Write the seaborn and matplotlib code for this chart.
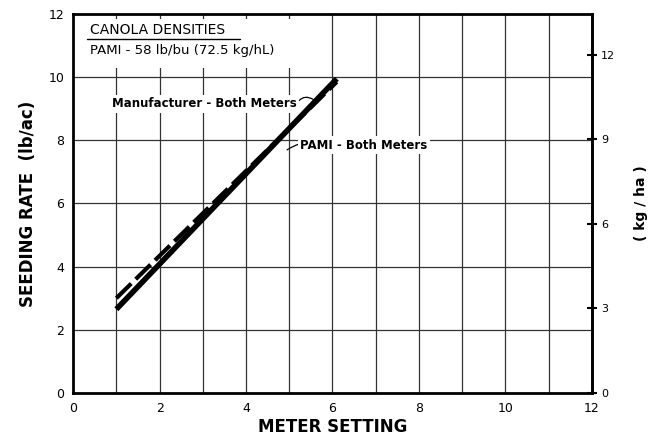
import pandas as pd
import seaborn as sns
import matplotlib.pyplot as plt

# meter setting vs seeding rate (lb/ac)
meter_setting = [1.0, 6.1]
pami_rate = [2.65, 9.95]
manufacturer_rate = [3.0, 9.85]

x_ticks = [0, 2, 4, 6, 8, 10, 12]
y_ticks = [0, 2, 4, 6, 8, 10, 12]
kg_ticks = [0, 3, 6, 9, 12]

LB_TO_KG = 1.121


def build_frame():
    rows = []
    for x, y in zip(meter_setting, pami_rate):
        rows.append({"setting": x, "rate": y, "source": "PAMI - Both Meters"})
    for x, y in zip(meter_setting, manufacturer_rate):
        rows.append({"setting": x, "rate": y, "source": "Manufacturer - Both Meters"})
    return pd.DataFrame(rows)


def plot_chart(df, save_path):
    sns.set_style("white")
    plt.rcParams["font.family"] = ["DejaVu Sans"]
    plt.rcParams["text.color"] = "black"
    plt.rcParams["axes.labelcolor"] = "black"
    fig, ax = plt.subplots(figsize=(6.59, 4.38), dpi=100)
    fig.subplots_adjust(left=0.111, right=0.898, top=0.968, bottom=0.103)

    # grid: every unit on x, every 2 on y
    for gx in range(1, 12):
        ax.axvline(gx, color="#333333", lw=0.9, zorder=1)
    for gy in range(2, 12, 2):
        ax.axhline(gy, color="#333333", lw=0.9, zorder=1)

    pami = df[df["source"] == "PAMI - Both Meters"]
    manu = df[df["source"] == "Manufacturer - Both Meters"]
    sns.lineplot(data=pami, x="setting", y="rate", ax=ax, color="black",
                 lw=4.0, zorder=4, solid_capstyle="butt")
    sns.lineplot(data=manu, x="setting", y="rate", ax=ax, color="black",
                 lw=3.0, zorder=5, dashes=False, linestyle=(0, (5, 1.5)))

    ax.set_xlim(0, 12)
    ax.set_ylim(0, 12)
    ax.set_xticks(range(0, 13))
    ax.set_xticklabels([str(t) if t in x_ticks else "" for t in range(0, 13)])
    ax.set_yticks(y_ticks)
    ax.set_yticklabels([str(t) for t in y_ticks])
    ax.tick_params(direction="inout", length=7, width=1.5, labelsize=9,
                   colors="black", pad=3)
    for s in ax.spines.values():
        s.set_linewidth(2)
        s.set_color("black")

    ax.set_xlabel("METER SETTING", fontsize=12, fontweight="bold", labelpad=2)
    ax.set_ylabel("SEEDING RATE  (lb/ac)", fontsize=12, fontweight="bold", labelpad=8)

    sec = ax.secondary_yaxis("right", functions=(lambda v: v * LB_TO_KG,
                                                 lambda v: v / LB_TO_KG))
    sec.set_yticks(kg_ticks)
    sec.set_yticklabels([str(t) for t in kg_ticks])
    sec.tick_params(direction="inout", length=7, width=1.5, labelsize=8, pad=3,
                    colors="black")
    sec.spines["right"].set_linewidth(2)
    sec.set_ylabel("( kg / ha )", fontsize=10, fontweight="bold", labelpad=14)

    # legend box top left
    ax.add_patch(plt.Rectangle((0.15, 10.3), 5.1, 1.55, facecolor="white",
                               edgecolor="none", zorder=2))
    ax.text(0.4, 11.5, "CANOLA DENSITIES", fontsize=10, va="center", zorder=3)
    ax.plot([0.33, 3.85], [11.22, 11.22], color="black", lw=1, zorder=3)
    ax.text(0.4, 10.85, "PAMI - 58 lb/bu (72.5 kg/hL)", fontsize=9.5,
            va="center", zorder=3)

    ax.annotate("Manufacturer - Both Meters", xy=(5.55, 9.3), xytext=(0.9, 9.15),
                fontsize=8.5, fontweight="bold", va="center", zorder=6,
                bbox=dict(boxstyle="square,pad=0.2", fc="white", ec="none"),
                arrowprops=dict(arrowstyle="-", lw=0.9, color="black", relpos=(1, 0.5),
                                shrinkA=0, shrinkB=0,
                                connectionstyle="arc3,rad=-0.5"))
    ax.annotate("PAMI - Both Meters", xy=(4.95, 7.7), xytext=(5.25, 7.85),
                fontsize=8.5, fontweight="bold", va="center", zorder=6,
                bbox=dict(boxstyle="square,pad=0.2", fc="white", ec="none"),
                arrowprops=dict(arrowstyle="-", lw=0.9, color="black", relpos=(0, 0.5),
                                shrinkA=0, shrinkB=0,
                                connectionstyle="angle3,angleA=-90,angleB=30"))

    plt.savefig(save_path, dpi=100)
    plt.close()


if __name__ == "__main__":
    plot_chart(build_frame(), "out.png")
